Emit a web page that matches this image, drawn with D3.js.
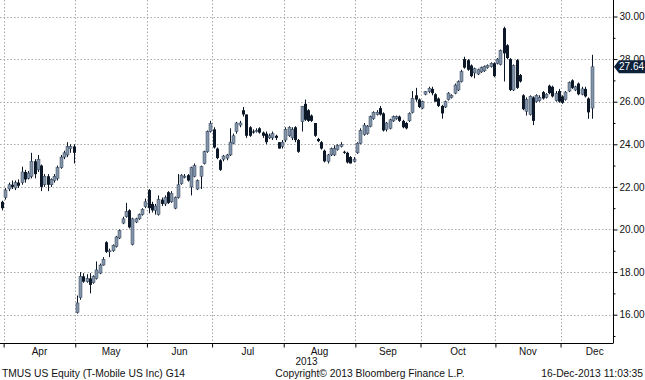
<!DOCTYPE html>
<html>
<head>
<meta charset="utf-8">
<script src="https://cdn.jsdelivr.net/npm/d3@7/dist/d3.min.js"></script>
<style>
  html, body { margin: 0; padding: 0; background: #fff; }
  svg { display: block; }
  text { font-family: "Liberation Sans", Arial, sans-serif; }
</style>
</head>
<body>
<svg id="chart" width="645" height="380"></svg>
<script>
// ---- DATA (daily OHLC, trading days from 28-Mar-2013 to 16-Dec-2013) ----
const open = [
  21.3,21.5,21.9,22.1,21.95,22.2,22.2,22.7,22.4,22.5,23.2,22.8,23.0,22.1,22.5,22.1,22.3,22.4,22.9,23.4,23.5,23.8,23.9,
  16.1,16.8,17.8,17.55,17.7,17.5,17.7,17.95,18.33,19.4,18.95,19.0,19.2,19.6,20.3,20.6,20.9,19.3,20.35,20.5,20.7,21.07,
  21.85,21.2,20.9,20.7,21.4,21.2,21.75,21.3,21.0,21.5,22.15,22.45,22.55,22.0,22.5,21.9,22.5,23.1,23.65,24.6,
  24.7,23.8,23.25,23.3,23.35,23.5,24.05,24.6,24.9,25.6,25.4,24.8,24.6,24.6,24.75,24.55,24.5,24.3,24.3,24.4,24.1,23.9,
  24.2,24.4,24.3,24.8,24.2,25.06,25.9,25.6,25.35,25.0,24.25,24.1,23.7,23.2,23.5,23.5,23.75,23.9,23.65,23.6,23.4,23.2,
  23.6,24.05,24.45,24.5,24.85,25.2,25.4,25.7,25.45,24.7,24.75,25.1,25.2,25.3,25.1,25.0,25.1,25.5,26.3,26.1,
  25.7,26.35,26.47,26.6,26.35,26.15,25.8,25.75,26.1,26.2,26.4,26.55,26.94,28.0,27.95,27.7,27.35,27.3,27.4,27.45,27.6,27.65,27.8,
  27.8,27.75,29.45,28.65,28.0,26.55,27.95,27.25,26.3,25.55,25.4,26.2,26.0,26.05,26.45,26.2,26.75,26.7,26.05,26.5,
  26.25,26.1,26.5,27.0,26.55,26.85,26.35,26.6,26.15,25.7
];
const high = [
  21.35,21.95,22.2,22.3,22.3,22.35,22.95,22.8,22.75,23.6,23.3,23.5,23.05,22.6,22.6,22.4,22.6,23.0,23.5,23.7,24.1,24.0,24.0,
  16.9,18.0,17.95,17.9,17.95,17.85,18.5,18.4,18.7,19.45,19.1,19.3,19.7,20.0,20.6,21.25,20.95,20.55,20.55,20.75,21.0,21.45,
  21.9,21.3,21.2,21.6,21.5,21.6,21.8,21.8,21.55,22.6,22.6,22.6,22.6,22.95,23.1,22.35,23.0,23.7,24.65,25.1,
  24.8,23.85,23.3,23.5,23.55,24.75,24.5,25.05,25.1,25.75,25.4,24.85,24.7,24.75,24.8,24.6,24.6,24.5,24.6,24.45,24.1,24.2,
  24.8,24.85,24.8,24.85,24.25,25.8,26.1,25.65,25.4,25.0,24.3,24.15,23.75,23.55,23.85,23.95,24.0,24.1,23.7,23.65,23.45,23.4,
  24.1,24.75,25.0,24.9,25.35,25.55,25.6,25.8,25.5,25.05,25.2,25.35,25.35,25.35,25.15,25.05,25.5,26.5,26.65,26.15,
  26.05,26.5,26.7,26.7,26.4,26.2,25.85,26.05,26.45,26.35,26.85,27.0,27.5,28.11,28.0,27.75,27.6,27.55,27.65,27.7,27.75,27.85,27.85,
  28.05,28.45,29.52,28.7,28.05,27.75,28.0,27.3,26.35,26.2,26.3,26.25,26.35,26.3,26.5,26.4,26.8,26.75,26.5,26.6,
  26.3,26.5,26.95,27.05,26.75,26.9,26.7,26.7,26.2,28.2
];
const low = [
  20.9,21.4,21.8,21.9,21.85,21.95,22.1,22.2,22.35,22.4,22.4,22.7,21.8,22.0,21.8,22.0,22.2,22.3,22.85,23.3,23.4,23.6,23.1,
  16.05,16.7,17.5,17.5,17.0,17.45,17.65,17.9,18.3,18.9,18.7,18.95,19.15,19.55,20.25,20.55,20.05,19.25,20.3,20.45,20.65,21.0,
  20.76,20.8,20.7,20.65,21.1,21.1,21.2,21.25,20.95,21.45,22.1,22.4,22.25,21.6,22.45,21.85,21.9,23.05,23.6,24.55,
  23.8,23.3,22.75,23.2,23.25,23.45,24.0,24.5,24.8,25.3,24.3,24.35,24.5,24.55,24.5,24.3,24.0,24.25,24.2,24.2,23.8,23.8,
  24.1,24.35,24.2,24.1,23.6,24.6,25.1,25.05,25.05,24.35,24.1,23.75,23.15,23.1,23.45,23.45,23.7,23.85,23.55,23.1,23.1,23.15,
  23.55,24.0,24.4,24.45,24.8,25.15,25.35,25.35,24.6,24.6,24.7,25.05,25.15,25.05,24.75,24.7,25.05,25.45,26.0,25.7,
  25.65,26.3,26.4,26.3,26.0,25.75,25.2,25.7,26.05,26.15,26.35,26.5,26.9,27.55,27.45,27.15,27.1,27.25,27.35,27.4,27.55,27.6,27.15,
  27.75,27.7,26.95,28.0,26.5,26.5,26.6,26.9,25.6,25.35,25.35,24.9,25.95,26.0,26.1,26.15,26.35,26.2,26.0,25.95,
  25.9,26.05,26.45,26.6,26.5,26.3,26.3,26.2,25.2,25.2
];
const close = [
  21.0,21.85,22.1,22.0,22.2,22.05,22.7,22.35,22.65,23.2,22.6,23.3,22.0,22.5,22.1,22.35,22.5,22.9,23.4,23.6,23.9,23.9,23.6,
  16.55,17.8,17.55,17.7,17.4,17.8,18.1,18.33,18.6,18.95,19.0,19.25,19.65,19.95,20.5,20.85,20.1,20.5,20.5,20.7,20.95,21.3,
  21.0,20.9,21.1,21.4,21.2,21.5,21.25,21.7,21.5,22.1,22.55,22.5,22.3,22.9,23.0,22.3,22.95,23.65,24.6,24.98,
  23.85,23.35,22.8,23.45,23.5,24.1,24.4,25.0,25.0,25.4,24.4,24.4,24.55,24.65,24.55,24.4,24.1,24.4,24.5,24.3,23.8,24.1,
  24.7,24.8,24.7,24.2,23.65,25.77,25.15,25.1,25.1,24.4,24.15,23.8,23.2,23.5,23.8,23.8,23.95,24.0,23.6,23.15,23.1,23.3,
  24.05,24.65,24.9,24.85,25.3,25.5,25.5,25.4,24.65,25.0,25.15,25.3,25.3,25.1,24.8,24.75,25.45,26.15,26.1,25.75,
  26.0,26.47,26.63,26.4,26.0,25.8,25.45,26.0,26.4,26.3,26.78,26.94,27.41,27.6,27.5,27.2,27.55,27.5,27.6,27.65,27.7,27.8,27.2,
  28.0,28.4,28.27,28.05,26.55,27.7,26.65,26.95,25.65,26.1,26.25,25.1,26.3,26.2,26.15,26.35,26.4,26.25,26.4,26.0,
  25.95,26.45,26.9,26.65,26.7,26.35,26.6,26.25,25.5,27.64
];
const months = ["Apr","May","Jun","Jul","Aug","Sep","Oct","Nov","Dec"];
const monthStart = [1, 23, 45, 65, 87, 109, 129, 152, 172, 193]; // first trading-day index of each month (last = following month)
const yMajor = [16, 18, 20, 22, 24, 26, 28, 30];
const yMinor = [15, 17, 19, 21, 23, 25, 27, 29];
const lastPrice = 27.64;
const yearLabel = "2013";
const footerLeft = "TMUS US Equity (T-Mobile US Inc) G14";
const footerMid = "Copyright\u00A9 2013 Bloomberg Finance L.P.";
const footerRight = "16-Dec-2013 11:03:35";

// ---- LAYOUT ----
const svg = d3.select("#chart");
const plotRight = 613, plotBottom = 343;
const x = d3.scaleLinear().domain([0, 181]).range([2, 591.5]);
const y = d3.scaleLinear().domain([14.67, 30.775]).range([plotBottom, 0]);

const grid = svg.append("g");
grid.selectAll("line.h").data(yMajor).join("line")
  .attr("x1", 0).attr("x2", plotRight)
  .attr("y1", d => Math.round(y(d)) + 0.5).attr("y2", d => Math.round(y(d)) + 0.5)
  .attr("stroke", "#aaaaaa").attr("stroke-width", 1).attr("stroke-dasharray", "1.5,2");
grid.selectAll("line.v").data(monthStart.slice(0, months.length)).join("line")
  .attr("x1", d => Math.round(x(d - 0.5)) + 0.5).attr("x2", d => Math.round(x(d - 0.5)) + 0.5)
  .attr("y1", 0).attr("y2", plotBottom)
  .attr("stroke", "#aaaaaa").attr("stroke-width", 1).attr("stroke-dasharray", "1.5,2");

// ---- CANDLES ----
const idx = d3.range(close.length);
const g = svg.append("g");
const dark = "#0c1727";
const upFill = "#8494aa";
g.selectAll("line.wick").data(idx).join("line")
  .attr("x1", i => Math.round(x(i)) + 0.5).attr("x2", i => Math.round(x(i)) + 0.5)
  .attr("y1", i => y(high[i])).attr("y2", i => y(low[i]))
  .attr("stroke", dark).attr("stroke-width", 1);
g.selectAll("rect.body").data(idx).join("rect")
  .attr("x", i => Math.round(x(i)) - 1)
  .attr("width", 3)
  .attr("y", i => y(Math.max(open[i], close[i])))
  .attr("height", i => Math.max(1, Math.abs(y(open[i]) - y(close[i]))))
  .attr("fill", i => close[i] >= open[i] ? upFill : dark)
  .attr("stroke", i => close[i] >= open[i] ? "#33435a" : "none")
  .attr("stroke-width", 0.5);

// ---- AXES ----
const yAxis = d3.axisRight(y).tickValues(yMajor).tickSize(4).tickPadding(2)
  .tickFormat(d3.format(".2f"));
const yAxisG = svg.append("g").attr("transform", `translate(${plotRight + 0.5},0)`).call(yAxis);
yAxisG.select(".domain").attr("d", `M0,0V${plotBottom}`).attr("stroke", "#000");
yAxisG.selectAll("text").attr("font-size", 10).attr("fill", "#111");
const yMinorG = svg.append("g").attr("transform", `translate(${plotRight + 0.5},0)`)
  .call(d3.axisRight(y).tickValues(yMinor).tickSize(2).tickFormat(""));
yMinorG.select(".domain").remove();

const xAxis = d3.axisBottom(x).tickValues(monthStart.slice(0, months.length).map(d => d - 0.5))
  .tickSize(4).tickFormat("");
const xAxisG = svg.append("g").attr("transform", `translate(0,${plotBottom + 0.5})`).call(xAxis);
xAxisG.select(".domain").attr("d", `M0,0H${plotRight + 0.5}`).attr("stroke", "#000");

svg.append("g").selectAll("text").data(months).join("text")
  .attr("x", (d, i) => (x(monthStart[i] - 0.5) + x(monthStart[i + 1] - 0.5)) / 2)
  .attr("y", 355).attr("text-anchor", "middle").attr("font-size", 10).attr("fill", "#111")
  .text(d => d);
svg.append("text").attr("x", plotRight / 2).attr("y", 365).attr("text-anchor", "middle")
  .attr("font-size", 10).attr("fill", "#111").text(yearLabel);

svg.append("text").attr("x", 2).attr("y", 377).attr("font-size", 10.3).attr("fill", "#111").text(footerLeft);
svg.append("text").attr("x", 370).attr("y", 377).attr("text-anchor", "middle").attr("font-size", 10.3).attr("fill", "#111").text(footerMid);
svg.append("text").attr("x", 643).attr("y", 377).attr("text-anchor", "end").attr("font-size", 10.3).attr("fill", "#111").text(footerRight);

// last price tag (drawn over the 28.00 label, as in the original)
const ly = y(lastPrice);
const tag = svg.append("g");
tag.append("path")
  .attr("d", `M${plotRight + 1},${ly} L${plotRight + 6},${ly - 6.5} H645 V${ly + 6.5} H${plotRight + 6} Z`)
  .attr("fill", "#0d2138");
tag.append("text").attr("x", 631.5).attr("y", ly + 3.6).attr("text-anchor", "middle")
  .attr("font-size", 10).attr("fill", "#fff").text(lastPrice.toFixed(2));
</script>
</body>
</html>
